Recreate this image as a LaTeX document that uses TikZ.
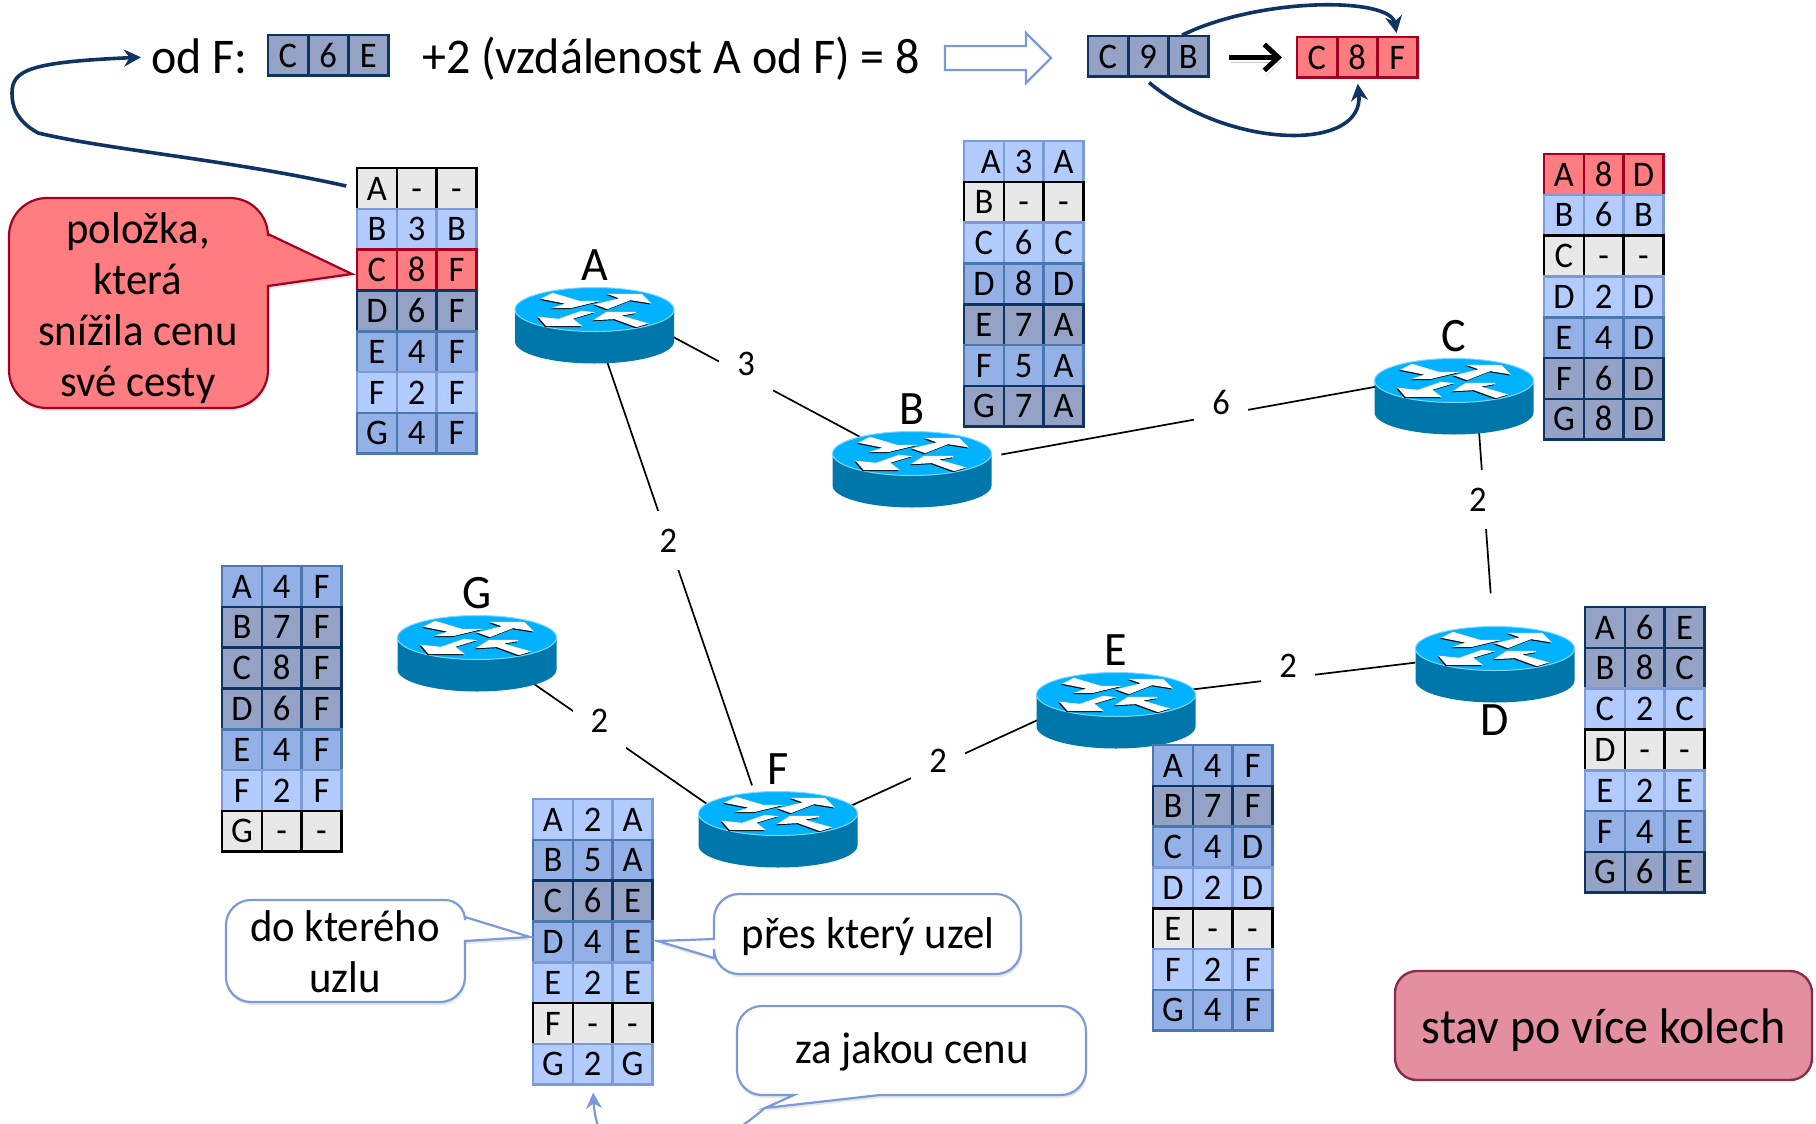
\documentclass[tikz,border=0pt]{standalone}
\usepackage{fontspec}
\setmainfont[FakeStretch=0.96]{Carlito}
\usetikzlibrary{arrows.meta, positioning, shapes.geometric, shadows}

\definecolor{navy}{HTML}{0F3463}
\definecolor{lightfill}{HTML}{B3CCFF}
\definecolor{lightline}{HTML}{7D9AD8}
\definecolor{midfill}{HTML}{93B1E6}
\definecolor{midline}{HTML}{4A78AE}
\definecolor{darkfill}{HTML}{94A3C5}
\definecolor{selffill}{HTML}{E8E8E8}
\definecolor{redfill}{HTML}{FF7C80}
\definecolor{redline}{HTML}{A50021}
\definecolor{pinkfill}{HTML}{E38FA0}
\definecolor{pinkline}{HTML}{8B2C4A}
\definecolor{routertop}{HTML}{00B2FF}
\definecolor{routerside}{HTML}{0077AA}

\tikzset{
    cellbox/.style={draw, line width=2.6pt, outer sep=0pt, inner sep=0pt, anchor=north west,
        minimum width=39.8pt, minimum height=40.8pt, text height=23.5pt, text depth=0pt,
        font=\fontsize{36}{38}\selectfont},
    light/.style={fill=lightfill, draw=lightline},
    mid/.style={fill=midfill, draw=midline},
    dark/.style={fill=darkfill, draw=navy},
    self/.style={fill=selffill, draw=black},
    hit/.style={fill=redfill, draw=redline},
    anchorzone/.style={ellipse, minimum width=159pt, minimum height=75pt, inner sep=0pt},
    link/.style={line width=1.7pt},
    cost/.style={fill=white, inner sep=18pt, text height=23pt, text depth=#1, font=\fontsize{36}{38}\selectfont},
    cost/.default=0pt,
    routerlabel/.style={inner sep=0pt, text height=31pt, text depth=0pt, font=\fontsize{48}{50}\selectfont},
    toptext/.style={anchor=base west, inner sep=0pt, font=\fontsize{50}{52}\selectfont},
    bluenote/.style={draw=lightline, fill=white, line width=2.2pt, drop shadow={opacity=.2, shadow xshift=1pt, shadow yshift=-3pt}},
    rednote/.style={draw=redline, fill=redfill, line width=2.2pt, drop shadow={opacity=.2, shadow xshift=1pt, shadow yshift=-3pt}},
    notetext/.style={align=center, inner sep=0pt, font=\fontsize{44.5}{51}\selectfont},
    navyarrow/.style={draw=navy, line width=3.6pt, -{Stealth[length=17pt,width=17pt]}},
    router/.pic={
        \fill[routerside] (-79.5,0) -- (-79.5,-32) arc[start angle=180, end angle=360, x radius=79.5, y radius=22] -- (79.5,0) -- cycle;
        \draw[routertop!50!white, line width=1pt, fill=routertop] (0,0) ellipse[x radius=79.5, y radius=22];
        \foreach \dx/\dy/\tint in {-1/-1/black,0/0/white} {
            \filldraw[\tint, line width=1.3pt, shift={(\dx,\dy)}] (-52,11) -- (-42,16) -- (-15,8) -- (1,8) -- (-24,2) -- (-39,2) -- (-27,6) -- cycle;
            \filldraw[\tint, line width=1.3pt, shift={(\dx,\dy)}] (2,5) -- (27,11) -- (16,15) -- (47,15) -- (55,7) -- (36,10) -- (13,1) -- cycle;
            \filldraw[\tint, line width=1.3pt, shift={(\dx,\dy)}] (-3,-3) -- (-23,-9) -- (-14,-16) -- (-48,-16) -- (-55,-8) -- (-36,-10) -- (-13,-2) -- cycle;
            \filldraw[\tint, line width=1.3pt, shift={(\dx,\dy)}] (52,-14) -- (24,-6) -- (41,-3) -- (12,-3) -- (1,-10) -- (20,-9) -- (42,-17) -- cycle;
        }
    }
}

% name, left, top, rows as letter/cost/via/tone
\newcommand{\routetable}[4]{
    \foreach \dest/\price/\via/\tone [count=\r] in {#4} {
        \node[cellbox, \tone] (#1-\r-1) at (#2, {#3-(\r-1)*40.8}) {\dest};
        \node[cellbox, \tone] (#1-\r-2) at (#2+39.8, {#3-(\r-1)*40.8}) {\price};
        \node[cellbox, \tone] (#1-\r-3) at (#2+79.6, {#3-(\r-1)*40.8}) {\via};
    }
}
% name, left, top, tone, three texts
\newcommand{\entrystrip}[5]{
    \foreach \entry [count=\c] in {#5} {
        \node[cellbox, #4] (#1-\c) at ({#2+(\c-1)*40.2}, #3) {\entry};
    }
}

\begin{document}
\begin{tikzpicture}[x=1pt, y=1pt, node distance=7pt]
    \useasboundingbox (0,-1124) rectangle (1816,0);

    % routers, only their outlines for now
    \node[anchorzone] (rA) at (594.5,-325) {};
    \node[anchorzone] (rB) at (912,-469) {};
    \node[anchorzone] (rC) at (1454,-396) {};
    \node[anchorzone] (rD) at (1495,-664) {};
    \node[anchorzone] (rE) at (1116,-710) {};
    \node[anchorzone] (rF) at (778,-829) {};
    \node[anchorzone] (rG) at (477,-653) {};

    % links
    \draw[link] (rA.-8) -- node[cost=23pt, pos=.39] {3} (rB.148);
    \draw[link, shorten >=8pt] (rA.-71) -- node[cost, pos=.415] {2} (rF.123);
    \draw[link, shorten <=14pt] (rB.9) -- node[cost=23pt, pos=.6] {6} (rC.173);
    \draw[link, shorten >=33pt] (rC.-55) -- node[cost, pos=.35, xshift=-6pt] {2} (rD.93);
    \draw[link] (rD.179) -- node[cost=23pt, pos=.55] {2} (rE.16);
    \draw[link] (rE.-173) -- node[cost=10pt, pos=.52] {2} (rF.17);
    \draw[link] (rF.162) -- node[cost=16pt, pos=.62] {2} (rG.-28);

    \foreach \nm in {A,B,C,D,E,F,G} {
        \pic at ([yshift=15.5pt]r\nm.center) {router};
    }
    \node[routerlabel, above=of rA] (lblA) {A};
    \node[routerlabel, above=of rB] (lblB) {B};
    \node[routerlabel, above=of rC] (lblC) {C};
    \node[routerlabel, below=3pt of rD] (lblD) {D};
    \node[routerlabel, above=of rE] (lblE) {E};
    \node[routerlabel, above=of rF] (lblF) {F};
    \node[routerlabel, above=of rG] (lblG) {G};

    % tables
    \routetable{tA}{357}{-168}{A/-/-/self, B/3/B/light, C/8/F/hit, D/6/F/dark, E/4/F/mid, F/2/F/light, G/4/F/mid}
    \routetable{tB}{964}{-141}{\kern14pt A/3/A/light, B/-/-/self, C/6/C/light, D/8/D/mid, E/7/A/dark, F/5/A/mid, G/7/A/dark}
    \routetable{tC}{1544}{-154}{A/8/D/hit, B/6/B/light, C/-/-/self, D/2/D/light, E/4/D/mid, F/6/D/dark, G/8/D/dark}
    \routetable{tD}{1585}{-607}{A/6/E/dark, B/8/C/dark, C/2/C/light, D/-/-/self, E/2/E/light, F/4/E/mid, G/6/E/dark}
    \routetable{tE}{1153}{-745}{A/4/F/mid, B/7/F/dark, C/4/D/mid, D/2/D/light, E/-/-/self, F/2/F/light, G/4/F/mid}
    \routetable{tF}{533}{-799}{A/2/A/light, B/5/A/mid, C/6/E/dark, D/4/E/mid, E/2/E/light, F/-/-/self, G/2/G/light}
    \routetable{tG}{222}{-566}{A/4/F/mid, B/7/F/dark, C/8/F/dark, D/6/F/dark, E/4/F/mid, F/2/F/light, G/-/-/self}

    % top line
    \node[toptext] (odF) at (151,-74) {od F:};
    \entrystrip{sOld}{268}{-35}{dark}{C,6,E}
    \node[toptext] (sum) at (422,-74) {+2 (vzdálenost A od F) = 8};
    \draw[draw=lightline, fill=white, line width=2.4pt] (945,-46) -- (1026,-46) -- (1026,-33) -- (1051,-58) -- (1026,-83) -- (1026,-70) -- (945,-70) -- cycle;
    \entrystrip{sNew}{1088}{-36}{dark}{C,9,B}
    \entrystrip{sBest}{1297}{-37}{hit}{C,8,F}
    \draw[line width=5pt, -{Straight Barb[length=14pt,width=26pt]}, shorten <=21pt, shorten >=15pt,
        preaction={draw=black!22, transform canvas={shift={(2pt,-5pt)}}}] (sNew-3.east |- sBest-1.west) -- (sBest-1.west);

    % curved arrows
    \draw[navyarrow, shorten <=11pt, shorten >=10pt] (tA-1-1.west) .. controls (230,-160) and (110,-150) .. (38,-133) .. controls (15,-120) and (12,-105) .. (12,-93) .. controls (12,-70) and (30,-62) .. (odF.west);
    \draw[navyarrow, shorten <=2pt, shorten >=4pt] ([xshift=-8pt]sNew-3.north) .. controls (1260,3) and (1390,3) .. (sBest-3.north);
    \draw[navyarrow, shorten <=9pt, shorten >=6pt] ([xshift=-6pt]sNew-2.south) .. controls (1230,-150) and (1365,-152) .. (sBest-2.south);

    % notes
    \draw[rednote] (47,-198) -- (230,-198) arc[start angle=90, end angle=0, radius=38pt] -- (268,-234) -- (352,-274) -- (268,-286) -- (268,-370) arc[start angle=0, end angle=-90, radius=38pt] -- (47,-408) arc[start angle=270, end angle=180, radius=38pt] -- (9,-236) arc[start angle=180, end angle=90, radius=38pt] -- cycle;
    \node[notetext] (noteHit) at (138,-308) {položka,\\která\\snížila cenu\\své cesty};

    \draw[bluenote] (251,-900) -- (445,-900) arc[start angle=90, end angle=0, radius=20pt] -- (465,-917) -- (530,-937) -- (465,-941) -- (465,-977) arc[start angle=0, end angle=-90, radius=25pt] -- (251,-1002) arc[start angle=270, end angle=180, radius=25pt] -- (226,-925) arc[start angle=180, end angle=90, radius=25pt] -- cycle;
    \node[notetext] (noteDest) at (345,-952) {do kterého\\uzlu};

    \draw[bluenote] (739,-894) -- (996,-894) arc[start angle=90, end angle=0, radius=25pt] -- (1021,-949) arc[start angle=0, end angle=-90, radius=25pt] -- (739,-974) arc[start angle=270, end angle=180, radius=25pt] -- (714,-958) -- (657.5,-941) -- (714,-939) -- (714,-919) arc[start angle=180, end angle=90, radius=25pt] -- cycle;
    \node[notetext] (noteVia) at (868,-937) {přes který uzel};

    \draw[bluenote] (762,-1006) -- (1061,-1006) arc[start angle=90, end angle=0, radius=25pt] -- (1086,-1070) arc[start angle=0, end angle=-90, radius=25pt] -- (880,-1095) -- (765,-1108) -- (794,-1095) -- (762,-1095) arc[start angle=270, end angle=180, radius=25pt] -- (737,-1031) arc[start angle=180, end angle=90, radius=25pt] -- cycle;
    \node[notetext] (noteCost) at (912,-1052) {za jakou cenu};
    \coordinate (costTip) at (765,-1108);
    \draw[draw=lightline, line width=2.2pt, -{Stealth[length=16pt,width=16pt]}, shorten >=8pt] (costTip) .. controls (680,-1180) and (598,-1180) .. (tF-7-2.south);

    % state box
    \node[draw=pinkline, fill=pinkfill, line width=2.4pt, rounded corners=22pt, minimum width=417pt, minimum height=109pt, text height=36pt, text depth=0pt, font=\fontsize{50}{52}\selectfont] (state) at (1603.5,-1025.5) {stav po více kolech};
\end{tikzpicture}
\end{document}
